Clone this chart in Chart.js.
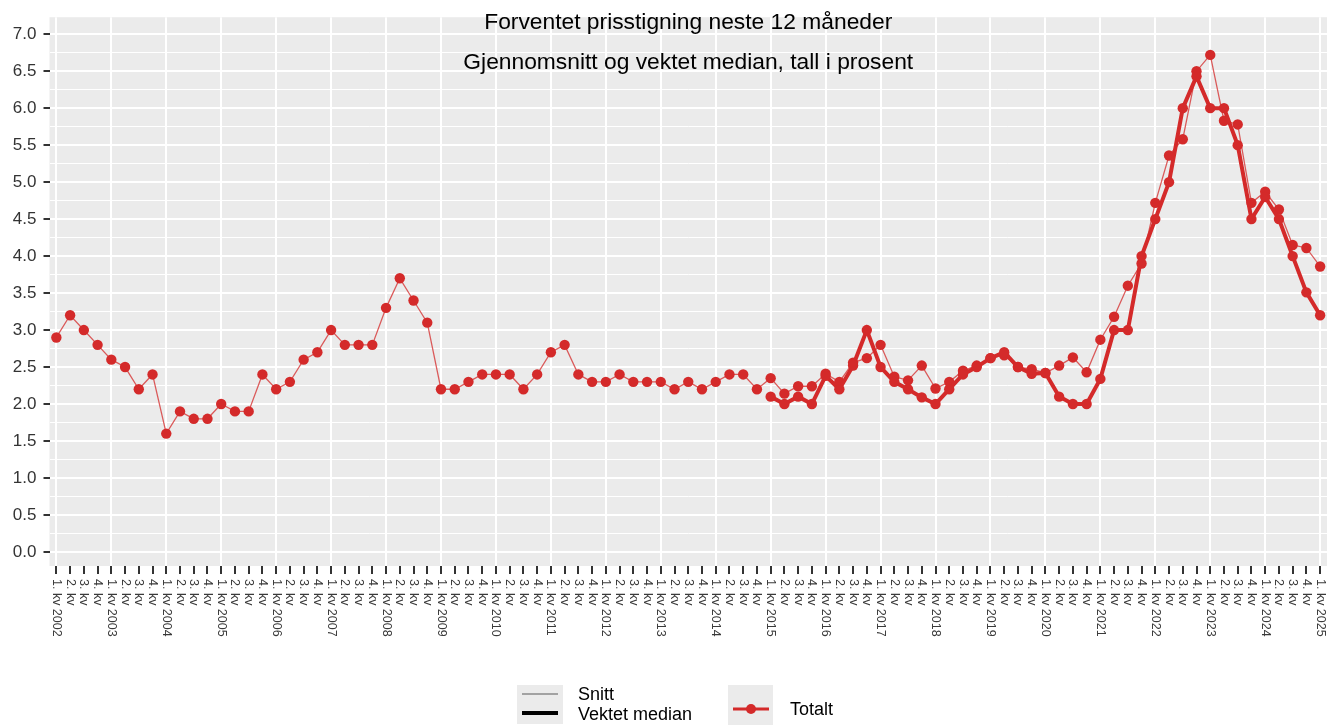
<!DOCTYPE html>
<html>
<head>
<meta charset="utf-8">
<script src="https://cdn.jsdelivr.net/npm/chart.js@4.4.1/dist/chart.umd.min.js"></script>
<style>
html,body{margin:0;padding:0;background:#ffffff;}
#wrap{width:1336px;height:726px;}
</style>
</head>
<body>
<div id="wrap"><canvas id="c" width="1336" height="726"></canvas></div>
<script>
// ---- Data ----
const years = [2002,2003,2004,2005,2006,2007,2008,2009,2010,2011,2012,2013,2014,2015,2016,2017,2018,2019,2020,2021,2022,2023,2024,2025];
const quarterNames = ['1. kv','2. kv','3. kv','4. kv'];
const lastYearQuarters = 1; // 2025 only has 1. kv

const categories = [];
years.forEach((yr, yi) => {
  const nq = (yi === years.length - 1) ? lastYearQuarters : 4;
  for (let q = 0; q < nq; q++) categories.push(q === 0 ? quarterNames[0] + ' ' + yr : quarterNames[q]);
});

// Snitt (gjennomsnitt), 1. kv 2002 – 1. kv 2025
const snitt = [
  2.9, 3.2, 3.0, 2.8,     // 2002
  2.6, 2.5, 2.2, 2.4,     // 2003
  1.6, 1.9, 1.8, 1.8,     // 2004
  2.0, 1.9, 1.9, 2.4,     // 2005
  2.2, 2.3, 2.6, 2.7,     // 2006
  3.0, 2.8, 2.8, 2.8,     // 2007
  3.3, 3.7, 3.4, 3.1,     // 2008
  2.2, 2.2, 2.3, 2.4,     // 2009
  2.4, 2.4, 2.2, 2.4,     // 2010
  2.7, 2.8, 2.4, 2.3,     // 2011
  2.3, 2.4, 2.3, 2.3,     // 2012
  2.3, 2.2, 2.3, 2.2,     // 2013
  2.3, 2.4, 2.4, 2.2,     // 2014
  2.35, 2.14, 2.24, 2.24, // 2015
  2.41, 2.3, 2.56, 2.62,  // 2016
  2.8, 2.37, 2.32, 2.52,  // 2017
  2.21, 2.3, 2.45, 2.52,  // 2018
  2.62, 2.66, 2.5, 2.47,  // 2019
  2.42, 2.52, 2.63, 2.43, // 2020
  2.87, 3.18, 3.6, 3.9,   // 2021
  4.72, 5.36, 5.58, 6.5,  // 2022
  6.72, 5.83, 5.78, 4.72, // 2023
  4.87, 4.63, 4.15, 4.11, // 2024
  3.86                    // 2025
];

// Vektet median, fra 1. kv 2015
const vektetMedian = [
  null,null,null,null, null,null,null,null, null,null,null,null, null,null,null,null, // 2002-2005
  null,null,null,null, null,null,null,null, null,null,null,null, null,null,null,null, // 2006-2009
  null,null,null,null, null,null,null,null, null,null,null,null, null,null,null,null, // 2010-2013
  null,null,null,null,    // 2014
  2.1, 2.0, 2.1, 2.0,     // 2015
  2.38, 2.2, 2.52, 3.0,   // 2016
  2.5, 2.3, 2.2, 2.09,    // 2017
  2.0, 2.2, 2.4, 2.5,     // 2018
  2.62, 2.7, 2.5, 2.41,   // 2019
  2.42, 2.1, 2.0, 2.0,    // 2020
  2.34, 3.0, 3.0, 4.0,    // 2021
  4.5, 5.0, 6.0, 6.43,    // 2022
  6.0, 6.0, 5.5, 4.5,     // 2023
  4.8, 4.5, 4.0, 3.51,    // 2024
  3.2                     // 2025
];

const yTickValues = [0,0.25,0.5,0.75,1,1.25,1.5,1.75,2,2.25,2.5,2.75,3,3.25,3.5,3.75,4,4.25,4.5,4.75,5,5.25,5.5,5.75,6,6.25,6.5,6.75,7];
const titleLines = ['Forventet prisstigning neste 12 måneder', 'Gjennomsnitt og vektet median, tall i prosent'];
const legendLinetype = ['Snitt', 'Vektet median'];
const legendGroup = ['Totalt'];

// ---- Styling ----
const RED = '#d42a2a';
const FONT = "'Liberation Sans', Arial, Helvetica, sans-serif";
const isMajor = v => Math.abs(v * 2 - Math.round(v * 2)) < 1e-9;

const decor = {
  id: 'decor',
  beforeDraw(chart) {
    const {ctx, chartArea: a} = chart;
    ctx.save();
    ctx.fillStyle = '#ebebeb';
    ctx.fillRect(a.left, a.top, a.right - a.left, a.bottom - a.top);
    ctx.restore();
  },
  afterDraw(chart) {
    const {ctx, chartArea: a} = chart;
    const xs = chart.scales.x;
    // x tick labels, rotated clockwise
    ctx.save();
    ctx.fillStyle = '#3a3a3a';
    ctx.font = '12.5px ' + FONT;
    ctx.textAlign = 'left';
    ctx.textBaseline = 'middle';
    categories.forEach((lab, i) => {
      const px = xs.getPixelForTick(i);
      ctx.save();
      ctx.translate(px, 579);
      ctx.rotate(Math.PI / 2);
      ctx.fillText(lab, 0, 0);
      ctx.restore();
    });
    ctx.restore();

    // titles
    ctx.save();
    ctx.fillStyle = '#000000';
    ctx.textAlign = 'center';
    ctx.textBaseline = 'middle';
    ctx.font = '22.8px ' + FONT;
    const cx = (a.left + a.right) / 2;
    ctx.fillText(titleLines[0], cx, 23);
    ctx.fillText(titleLines[1], cx, 63);
    ctx.restore();

    // legend
    ctx.save();
    ctx.fillStyle = '#ebebeb';
    ctx.fillRect(517, 685, 46, 39);
    ctx.fillRect(728, 685, 45, 40);
    ctx.strokeStyle = '#8a8a8a';
    ctx.lineWidth = 1.5;
    ctx.beginPath(); ctx.moveTo(522, 694); ctx.lineTo(558, 694); ctx.stroke();
    ctx.strokeStyle = '#000000';
    ctx.lineWidth = 4;
    ctx.beginPath(); ctx.moveTo(522, 713); ctx.lineTo(558, 713); ctx.stroke();
    ctx.strokeStyle = RED;
    ctx.lineWidth = 3;
    ctx.beginPath(); ctx.moveTo(733, 709); ctx.lineTo(769, 709); ctx.stroke();
    ctx.fillStyle = RED;
    ctx.beginPath(); ctx.arc(751, 709, 5, 0, Math.PI * 2); ctx.fill();
    ctx.fillStyle = '#000000';
    ctx.font = '18px ' + FONT;
    ctx.textAlign = 'left';
    ctx.textBaseline = 'middle';
    ctx.fillText(legendLinetype[0], 578, 695);
    ctx.fillText(legendLinetype[1], 578, 715);
    ctx.fillText(legendGroup[0], 790, 710);
    ctx.restore();
  }
};

new Chart(document.getElementById('c'), {
  type: 'line',
  data: {
    labels: categories,
    datasets: [
      {
        label: 'Vektet median',
        data: vektetMedian,
        borderColor: RED,
        borderWidth: 4,
        pointRadius: 5.2,
        pointBackgroundColor: RED,
        pointBorderWidth: 0,
        spanGaps: false,
        tension: 0,
        order: 1
      },
      {
        label: 'Snitt',
        data: snitt,
        borderColor: 'rgba(212,42,42,0.75)',
        borderWidth: 1.3,
        pointRadius: 5.2,
        pointBackgroundColor: RED,
        pointBorderWidth: 0,
        tension: 0,
        order: 2
      }
    ]
  },
  options: {
    responsive: false,
    devicePixelRatio: 1,
    animation: false,
    layout: { padding: { top: 6, right: 9, left: 0, bottom: 0 } },
    plugins: { legend: { display: false }, tooltip: { enabled: false }, title: { display: false } },
    events: [],
    scales: {
      x: {
        type: 'category',
        offset: true,
        border: { display: false },
        grid: {
          offset: false,
          color: c => (c.index % 4 === 0 ? '#ffffff' : 'rgba(0,0,0,0)'),
          lineWidth: 2,
          drawTicks: true,
          tickLength: 8,
          tickWidth: 2,
          tickColor: '#333333'
        },
        ticks: { display: false, autoSkip: false },
        afterFit: s => { s.height = 160; }
      },
      y: {
        type: 'linear',
        min: -0.19,
        max: 7.23,
        border: { display: false },
        afterBuildTicks: s => { s.ticks = yTickValues.map(v => ({ value: v })); },
        grid: {
          color: '#ffffff',
          lineWidth: c => (c.tick && isMajor(c.tick.value) ? 2 : 1),
          drawTicks: true,
          tickLength: 6,
          tickWidth: 2,
          tickColor: c => (c.tick && isMajor(c.tick.value) ? '#333333' : 'rgba(0,0,0,0)')
        },
        ticks: {
          autoSkip: false,
          padding: 7,
          color: '#333333',
          font: { size: 17, family: FONT },
          callback: v => (isMajor(v) ? v.toFixed(1) : '')
        },
        afterFit: s => { s.width = 49.5; }
      }
    }
  },
  plugins: [decor]
});
</script>
</body>
</html>
